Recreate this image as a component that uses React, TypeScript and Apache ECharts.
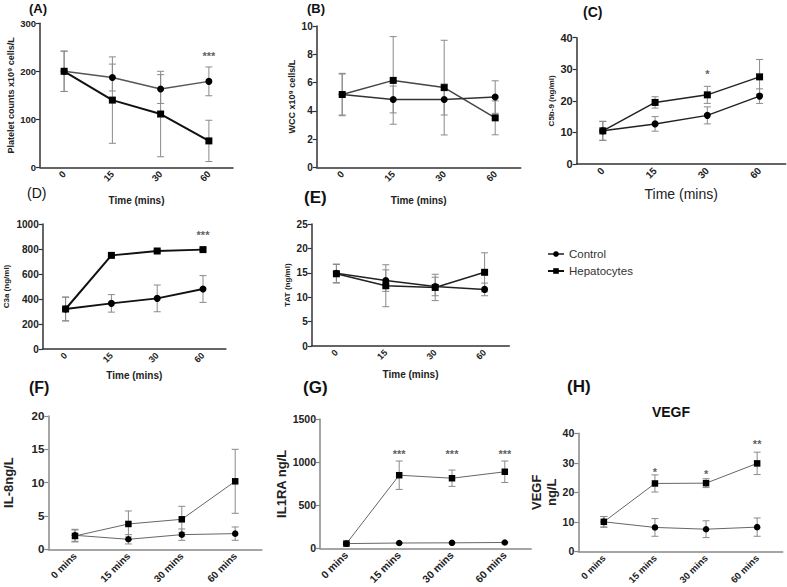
import React, { useEffect, useRef } from 'react';
import * as echarts from 'echarts';

const timeCats = ['0', '15', '30', '60'];
const minsCats = ['0 mins', '15 mins', '30 mins', '60 mins'];

// (A) Platelets
const plateletControl = [200, 187, 163, 179];
const plateletControlErr = [42, 28, 30, 30];
const plateletHep = [200, 140, 111, 55];
const plateletHepErr = [42, 90, 89, 43];
const plateletSig = [{ cat: '60', y: 238, text: '***' }];

// (B) WCC
const wccControl = [5.15, 4.8, 4.8, 4.97];
const wccControlErr = [1.45, 0.95, 1.1, 1.15];
const wccHep = [5.15, 6.15, 5.64, 3.5];
const wccHepErr = [1.5, 3.1, 3.35, 1.2];

// (C) C5b-9
const c5b9Control = [10.5, 12.7, 15.4, 21.5];
const c5b9ControlErr = [3.0, 2.3, 2.7, 2.3];
const c5b9Hep = [10.5, 19.5, 21.9, 27.6];
const c5b9HepErr = [3.0, 1.8, 2.7, 5.5];
const c5b9Sig = [{ cat: '30', y: 29.4, text: '*' }];

// (D) C3a
const c3aControl = [320, 365, 405, 480];
const c3aControlErr = [95, 70, 107, 107];
const c3aHep = [320, 749, 784, 795];
const c3aHepErr = [95, 10, 10, 12];
const c3aSig = [{ cat: '60', y: 936, text: '***' }];

// (E) TAT
const tatControl = [14.9, 13.4, 12.2, 11.6];
const tatControlErr = [1.9, 2.2, 1.9, 1.3];
const tatHep = [14.8, 12.35, 12.0, 15.1];
const tatHepErr = [1.9, 4.3, 2.7, 4.0];

// (F) IL-8
const il8Control = [2.1, 1.5, 2.2, 2.35];
const il8ControlErr = [0.9, 0.7, 0.85, 1.0];
const il8Hep = [2.0, 3.8, 4.5, 10.2];
const il8HepErr = [0.9, 1.95, 1.95, 4.8];

// (G) IL1RA
const il1raControl = [55, 62, 64, 68];
const il1raControlErr = [10, 5, 5, 5];
const il1raHep = [55, 850, 815, 890];
const il1raHepErr = [10, 165, 95, 125];
const il1raSig = [
  { cat: '15 mins', y: 1132, text: '***' },
  { cat: '30 mins', y: 1132, text: '***' },
  { cat: '60 mins', y: 1132, text: '***' },
];

// (H) VEGF
const vegfControl = [10, 8.1, 7.5, 8.2];
const vegfControlErr = [1.8, 3.0, 2.85, 3.1];
const vegfHep = [10, 23.0, 23.1, 29.8];
const vegfHepErr = [1.8, 2.9, 1.5, 3.8];
const vegfSig = [
  { cat: '15 mins', y: 27.9, text: '*' },
  { cat: '30 mins', y: 27.3, text: '*' },
  { cat: '60 mins', y: 37.4, text: '**' },
];

const FONT = "'Liberation Sans', Arial, sans-serif";

type Panel = {
  cats: string[];
  control: number[]; controlErr: number[];
  hep: number[]; hepErr: number[];
  sig: { cat: string; y: number; text: string }[];
  min: number; max: number; interval: number;
  yName: string; yNameGap: number; yNameSize: number;
  xName: string; xNameGap: number; xNameSize: number; xNameWeight: string;
  tickSize: number; xLabelSize: number;
  left: number; top: number; width: number; height: number;
  axisColor: string;
  cColor: string; cWidth: number; hColor: string; hWidth: number;
  sym: number;
};

const panels: Panel[] = [
  {
    cats: timeCats, control: plateletControl, controlErr: plateletControlErr, hep: plateletHep, hepErr: plateletHepErr, sig: plateletSig,
    min: 0, max: 300, interval: 100,
    yName: 'Platelet counts x10⁹ cells/L', yNameGap: 23, yNameSize: 9,
    xName: 'Time (mins)', xNameGap: 28, xNameSize: 10, xNameWeight: 'bold',
    tickSize: 9.5, xLabelSize: 9.5,
    left: 40, top: 23.3, width: 193, height: 144,
    axisColor: '#333', cColor: '#555', cWidth: 1.5, hColor: '#111', hWidth: 2, sym: 7,
  },
  {
    cats: timeCats, control: wccControl, controlErr: wccControlErr, hep: wccHep, hepErr: wccHepErr, sig: [],
    min: 0, max: 10, interval: 2,
    yName: 'WCC x10⁹ cells/L', yNameGap: 19, yNameSize: 9,
    xName: 'Time (mins)', xNameGap: 28, xNameSize: 10, xNameWeight: 'bold',
    tickSize: 10, xLabelSize: 9.5,
    left: 316.7, top: 26, width: 204, height: 141.3,
    axisColor: '#333', cColor: '#333', cWidth: 1.5, hColor: '#444', hWidth: 1.5, sym: 7,
  },
  {
    cats: timeCats, control: c5b9Control, controlErr: c5b9ControlErr, hep: c5b9Hep, hepErr: c5b9HepErr, sig: c5b9Sig,
    min: 0, max: 40, interval: 10,
    yName: 'C5b-9 (ng/ml)', yNameGap: 20, yNameSize: 8,
    xName: 'Time (mins)', xNameGap: 23, xNameSize: 14, xNameWeight: 'normal',
    tickSize: 11, xLabelSize: 10,
    left: 576.7, top: 37.7, width: 209, height: 126.3,
    axisColor: '#333', cColor: '#222', cWidth: 1.5, hColor: '#222', hWidth: 1.5, sym: 7,
  },
  {
    cats: timeCats, control: c3aControl, controlErr: c3aControlErr, hep: c3aHep, hepErr: c3aHepErr, sig: c3aSig,
    min: 0, max: 1000, interval: 200,
    yName: 'C3a (ng/ml)', yNameGap: 31, yNameSize: 8,
    xName: 'Time (mins)', xNameGap: 21, xNameSize: 10, xNameWeight: 'bold',
    tickSize: 10, xLabelSize: 9,
    left: 42.7, top: 224, width: 183.2, height: 125,
    axisColor: '#333', cColor: '#111', cWidth: 2, hColor: '#111', hWidth: 2, sym: 7,
  },
  {
    cats: timeCats, control: tatControl, controlErr: tatControlErr, hep: tatHep, hepErr: tatHepErr, sig: [],
    min: 0, max: 25, interval: 5,
    yName: 'TAT (ng/ml)', yNameGap: 19, yNameSize: 8,
    xName: 'Time (mins)', xNameGap: 23, xNameSize: 10, xNameWeight: 'bold',
    tickSize: 10, xLabelSize: 9,
    left: 311.7, top: 224, width: 197.6, height: 122,
    axisColor: '#333', cColor: '#222', cWidth: 1.5, hColor: '#222', hWidth: 1.5, sym: 7,
  },
  {
    cats: minsCats, control: il8Control, controlErr: il8ControlErr, hep: il8Hep, hepErr: il8HepErr, sig: [],
    min: 0, max: 20, interval: 5,
    yName: 'IL-8ng/L', yNameGap: 32, yNameSize: 13,
    xName: '', xNameGap: 0, xNameSize: 10, xNameWeight: 'bold',
    tickSize: 11.5, xLabelSize: 10,
    left: 48.3, top: 416, width: 213.6, height: 133.3,
    axisColor: '#888', cColor: '#666', cWidth: 1, hColor: '#666', hWidth: 1, sym: 6.5,
  },
  {
    cats: minsCats, control: il1raControl, controlErr: il1raControlErr, hep: il1raHep, hepErr: il1raHepErr, sig: il1raSig,
    min: 0, max: 1500, interval: 500,
    yName: 'IL1RA ng/L', yNameGap: 28, yNameSize: 13,
    xName: '', xNameGap: 0, xNameSize: 10, xNameWeight: 'bold',
    tickSize: 10.5, xLabelSize: 10.5,
    left: 320, top: 419.3, width: 211.2, height: 129.4,
    axisColor: '#888', cColor: '#666', cWidth: 1, hColor: '#666', hWidth: 1, sym: 6.5,
  },
  {
    cats: minsCats, control: vegfControl, controlErr: vegfControlErr, hep: vegfHep, hepErr: vegfHepErr, sig: vegfSig,
    min: 0, max: 40, interval: 10,
    yName: 'VEGF\nng/L', yNameGap: 17, yNameSize: 13,
    xName: '', xNameGap: 0, xNameSize: 10, xNameWeight: 'bold',
    tickSize: 10.5, xLabelSize: 9.5,
    left: 578.3, top: 433.3, width: 204.4, height: 118.4,
    axisColor: '#888', cColor: '#666', cWidth: 1, hColor: '#666', hWidth: 1, sym: 6.5,
  },
];

const panelLabels = [
  { text: '(A)', x: 29, y: 2, size: 13, weight: 'bold' },
  { text: '(B)', x: 307, y: 2, size: 13, weight: 'bold' },
  { text: '(C)', x: 583, y: 5, size: 14, weight: 'bold' },
  { text: '(D)', x: 27, y: 186, size: 14, weight: 'normal' },
  { text: '(E)', x: 304, y: 189, size: 17, weight: 'bold' },
  { text: '(F)', x: 29, y: 379, size: 16, weight: 'bold' },
  { text: '(G)', x: 303, y: 379, size: 17, weight: 'bold' },
  { text: '(H)', x: 567, y: 378, size: 17, weight: 'bold' },
];

function errRender(params: any, api: any) {
  const x = api.value(0);
  const lo = api.coord([x, api.value(1)]);
  const hi = api.coord([x, api.value(2)]);
  const w = 3.5;
  const style = { stroke: '#8a8a8a', lineWidth: 1, fill: 'none' };
  return {
    type: 'group',
    children: [
      { type: 'line', shape: { x1: lo[0], y1: lo[1], x2: hi[0], y2: hi[1] }, style },
      { type: 'line', shape: { x1: lo[0] - w, y1: lo[1], x2: lo[0] + w, y2: lo[1] }, style },
      { type: 'line', shape: { x1: hi[0] - w, y1: hi[1], x2: hi[0] + w, y2: hi[1] }, style },
    ],
  };
}

function buildOption() {
  const grid: any[] = [];
  const xAxis: any[] = [];
  const yAxis: any[] = [];
  const series: any[] = [];

  panels.forEach((p, i) => {
    grid.push({ left: p.left, top: p.top, width: p.width, height: p.height });
    xAxis.push({
      type: 'category', gridIndex: i, data: p.cats, boundaryGap: true,
      axisLine: { lineStyle: { color: p.axisColor, width: 1.5 } },
      axisTick: { alignWithLabel: true, length: 4, lineStyle: { color: p.axisColor, width: 1.2 } },
      axisLabel: { rotate: 45, interval: 0, margin: 5, fontSize: p.xLabelSize, fontWeight: 'bold', color: '#222', fontFamily: FONT },
      splitLine: { show: false },
      name: p.xName, nameLocation: 'middle', nameGap: p.xNameGap,
      nameTextStyle: { fontSize: p.xNameSize, fontWeight: p.xNameWeight, color: '#222', fontFamily: FONT },
    });
    yAxis.push({
      type: 'value', gridIndex: i, min: p.min, max: p.max, interval: p.interval,
      axisLine: { show: true, lineStyle: { color: p.axisColor, width: 1.5 } },
      axisTick: { show: true, length: 4, lineStyle: { color: p.axisColor, width: 1.2 } },
      axisLabel: {
        margin: 4, fontSize: p.tickSize, fontWeight: 'bold', color: '#222', fontFamily: FONT,
        formatter: (v: number) => String(v),
      },
      splitLine: { show: false },
      name: p.yName, nameLocation: 'middle', nameGap: p.yNameGap, nameRotate: 90,
      nameTextStyle: { fontSize: p.yNameSize, fontWeight: 'bold', color: '#222', fontFamily: FONT, lineHeight: p.yNameSize + 2 },
    });

    const errData: number[][] = [];
    p.cats.forEach((_, k) => {
      errData.push([k, p.control[k] - p.controlErr[k], p.control[k] + p.controlErr[k]]);
      errData.push([k, p.hep[k] - p.hepErr[k], p.hep[k] + p.hepErr[k]]);
    });
    series.push({
      type: 'custom', xAxisIndex: i, yAxisIndex: i, renderItem: errRender,
      data: errData, encode: { x: 0, y: [1, 2] }, z: 1, silent: true,
    });
    series.push({
      name: 'Hepatocytes', type: 'line', xAxisIndex: i, yAxisIndex: i, data: p.hep,
      symbol: 'rect', symbolSize: p.sym, showSymbol: true,
      lineStyle: { color: p.hColor, width: p.hWidth },
      itemStyle: { color: '#000' }, z: 3, silent: true,
    });
    series.push({
      name: 'Control', type: 'line', xAxisIndex: i, yAxisIndex: i, data: p.control,
      symbol: 'circle', symbolSize: p.sym, showSymbol: true,
      lineStyle: { color: p.cColor, width: p.cWidth },
      itemStyle: { color: '#000' }, z: 4, silent: true,
    });
    if (p.sig.length) {
      series.push({
        type: 'scatter', xAxisIndex: i, yAxisIndex: i, symbolSize: 1,
        itemStyle: { color: 'rgba(0,0,0,0)' }, silent: true,
        data: p.sig.map((s) => ({ value: [p.cats.indexOf(s.cat), s.y], name: s.text })),
        label: {
          show: true, position: 'inside', formatter: '{b}', offset: [0, 3],
          fontSize: 11, fontWeight: 'bold', color: '#333', fontFamily: FONT,
        },
      });
    }
  });

  const graphic: any[] = panelLabels.map((l) => ({
    type: 'text', x: l.x, y: l.y, silent: true,
    style: { text: l.text, fontSize: l.size, fontWeight: l.weight, fill: '#111', fontFamily: FONT, verticalAlign: 'top' },
  }));
  graphic.push({
    type: 'text', x: 671, y: 412, silent: true,
    style: { text: 'VEGF', fontSize: 14, fontWeight: 'bold', fill: '#111', fontFamily: FONT, align: 'center', verticalAlign: 'middle' },
  });

  return {
    animation: false,
    backgroundColor: '#fff',
    grid, xAxis, yAxis, series, graphic,
    legend: {
      data: ['Control', 'Hepatocytes'], orient: 'vertical', left: 542, top: 243,
      itemWidth: 16, itemHeight: 7, itemGap: 5, selectedMode: false,
      textStyle: { fontSize: 11.5, color: '#333', fontFamily: FONT },
    },
  };
}

export default function App() {
  const ref = useRef<HTMLDivElement>(null);
  useEffect(() => {
    if (!ref.current) return;
    const chart = echarts.init(ref.current, undefined, { renderer: 'svg' });
    chart.setOption(buildOption() as any);
    return () => chart.dispose();
  }, []);
  return <div ref={ref} style={{ position: 'absolute', left: 0, top: 0, width: 787, height: 587 }} />;
}
